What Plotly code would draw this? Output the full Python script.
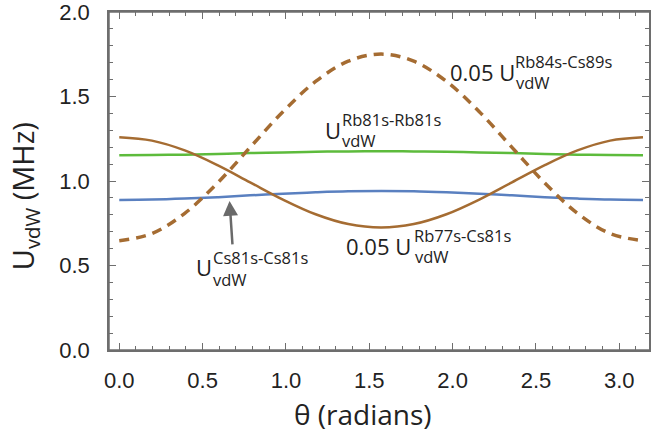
import plotly.graph_objects as go

# ---- data ----
theta = [0.0, 0.196, 0.393, 0.589, 0.785, 0.982, 1.178, 1.374, 1.571,
         1.767, 1.963, 2.160, 2.356, 2.553, 2.749, 2.945, 3.142]
u_rb84_cs89_scaled = [0.647, 0.689, 0.809, 0.988, 1.199, 1.410, 1.589, 1.709, 1.751,
                      1.709, 1.589, 1.410, 1.199, 0.988, 0.809, 0.689, 0.647]
u_rb77_cs81_scaled = [1.259, 1.239, 1.181, 1.094, 0.992, 0.890, 0.803, 0.745, 0.725,
                      0.745, 0.803, 0.890, 0.992, 1.094, 1.181, 1.239, 1.259]
u_rb81_rb81 = [1.153, 1.154, 1.156, 1.160, 1.165, 1.169, 1.173, 1.175, 1.176,
               1.175, 1.173, 1.169, 1.165, 1.160, 1.156, 1.154, 1.153]
u_cs81_cs81 = [0.888, 0.890, 0.896, 0.904, 0.915, 0.925, 0.933, 0.939, 0.941,
               0.939, 0.933, 0.925, 0.915, 0.904, 0.896, 0.890, 0.888]

x_ticks = [0.0, 0.5, 1.0, 1.5, 2.0, 2.5, 3.0]
y_ticks = [0.0, 0.5, 1.0, 1.5, 2.0]

BROWN = "#a56c32"
GREEN = "#5dbb3c"
BLUE = "#5a80c0"

W, H = 651, 437
L, R, T, B = 109, 0, 10, 87
PW, PH = W - L - R, H - T - B


def px(xp):
    return (xp - L) / PW


def py(yp):
    return (H - B - yp) / PH


fig = go.Figure()
fig.add_trace(go.Scatter(x=theta, y=u_cs81_cs81, mode="lines",
                         line=dict(color=BLUE, width=2.5, shape="spline")))
fig.add_trace(go.Scatter(x=theta, y=u_rb81_rb81, mode="lines",
                         line=dict(color=GREEN, width=2.5, shape="spline")))
fig.add_trace(go.Scatter(x=theta, y=u_rb77_cs81_scaled, mode="lines",
                         line=dict(color=BROWN, width=2.5, shape="spline")))
fig.add_trace(go.Scatter(x=theta, y=u_rb84_cs89_scaled, mode="lines",
                         line=dict(color=BROWN, width=3.5, shape="spline", dash="10px,7px")))

LF = "Open Sans"
TXT = "#222222"
anns = []


def lab(xp, yp, text, size):
    anns.append(dict(x=px(xp), y=py(yp), xref="paper", yref="paper", text=text,
                     showarrow=False, xanchor="left", yanchor="middle",
                     font=dict(family=LF, size=size, color=TXT)))


# 0.05 U Rb84s-Cs89s
lab(449, 70.5, "0.05 U", 22)
lab(514, 59.5, "Rb84s-Cs89s", 16.5)
lab(515, 81, "vdW", 16.5)
# U Rb81s-Rb81s
lab(324, 128.5, "U", 22)
lab(341, 117.8, "Rb81s-Rb81s", 16.5)
lab(341, 139.5, "vdW", 16.5)
# U Cs81s-Cs81s
lab(194, 266.5, "U", 22)
lab(211, 256.8, "Cs81s-Cs81s", 16.5)
lab(211, 278.8, "vdW", 16.5)
# 0.05 U Rb77s-Cs81s
lab(345, 245.5, "0.05 U", 22)
lab(413, 234.8, "Rb77s-Cs81s", 16.5)
lab(414, 255.8, "vdW", 16.5)

# arrow
anns.append(dict(x=px(230), y=py(200), xref="paper", yref="paper", text="",
                 showarrow=True, ax=3, ay=45, arrowcolor="#6a6a6a", arrowwidth=2.5,
                 arrowhead=2, arrowsize=1.2, standoff=0))

# axis titles
anns.append(dict(x=px(25), y=py(195), xref="paper", yref="paper",
                 text="U<sub>vdW</sub> (MHz)", textangle=-90, showarrow=False,
                 xanchor="center", yanchor="middle",
                 font=dict(family=LF, size=29, color=TXT)))
anns.append(dict(x=px(363.5), y=py(414), xref="paper", yref="paper",
                 text="θ (radians)", showarrow=False,
                 xanchor="center", yanchor="middle",
                 font=dict(family=LF, size=28, color=TXT)))

FRAME = "#6e6e6e"
axis_common = dict(showline=True, linecolor=FRAME, linewidth=1.5, mirror="allticks",
                   ticks="inside", ticklen=7, tickcolor=FRAME, tickwidth=1.2,
                   showgrid=False, zeroline=False, ticklabeloverflow="allow",
                   layer="above traces",
                   tickfont=dict(family="Liberation Sans", size=22, color=TXT),
                   minor=dict(ticks="inside", ticklen=4, tickcolor=FRAME,
                              tickwidth=1.2, dtick=0.1, showgrid=False))

fig.update_xaxes(range=[(L - 119.3) / 167.3, (W - 119.3) / 167.3],
                 tickvals=x_ticks, ticktext=[f"{v:.1f}" for v in x_ticks],
                 ticklabelstandoff=10, **axis_common)
fig.update_yaxes(range=[0, 2.0], tickvals=y_ticks,
                 ticktext=[f"{v:.1f}" for v in y_ticks],
                 ticklabelstandoff=13, **axis_common)

# plot frame (left, top, bottom) as a safety outline
fig.add_shape(type="line", xref="paper", yref="paper", x0=0, x1=0, y0=0, y1=1,
              line=dict(color=FRAME, width=1.5), layer="above")
fig.add_shape(type="line", xref="paper", yref="paper", x0=0, x1=1, y0=1, y1=1,
              line=dict(color=FRAME, width=1.5), layer="above")
fig.add_shape(type="line", xref="paper", yref="paper", x0=0, x1=1, y0=0, y1=0,
              line=dict(color=FRAME, width=1.5), layer="above")

fig.update_layout(width=W, height=H, margin=dict(l=L, r=R, t=T, b=B),
                  paper_bgcolor="white", plot_bgcolor="white", showlegend=False,
                  annotations=anns)

fig.write_html("out.html")
